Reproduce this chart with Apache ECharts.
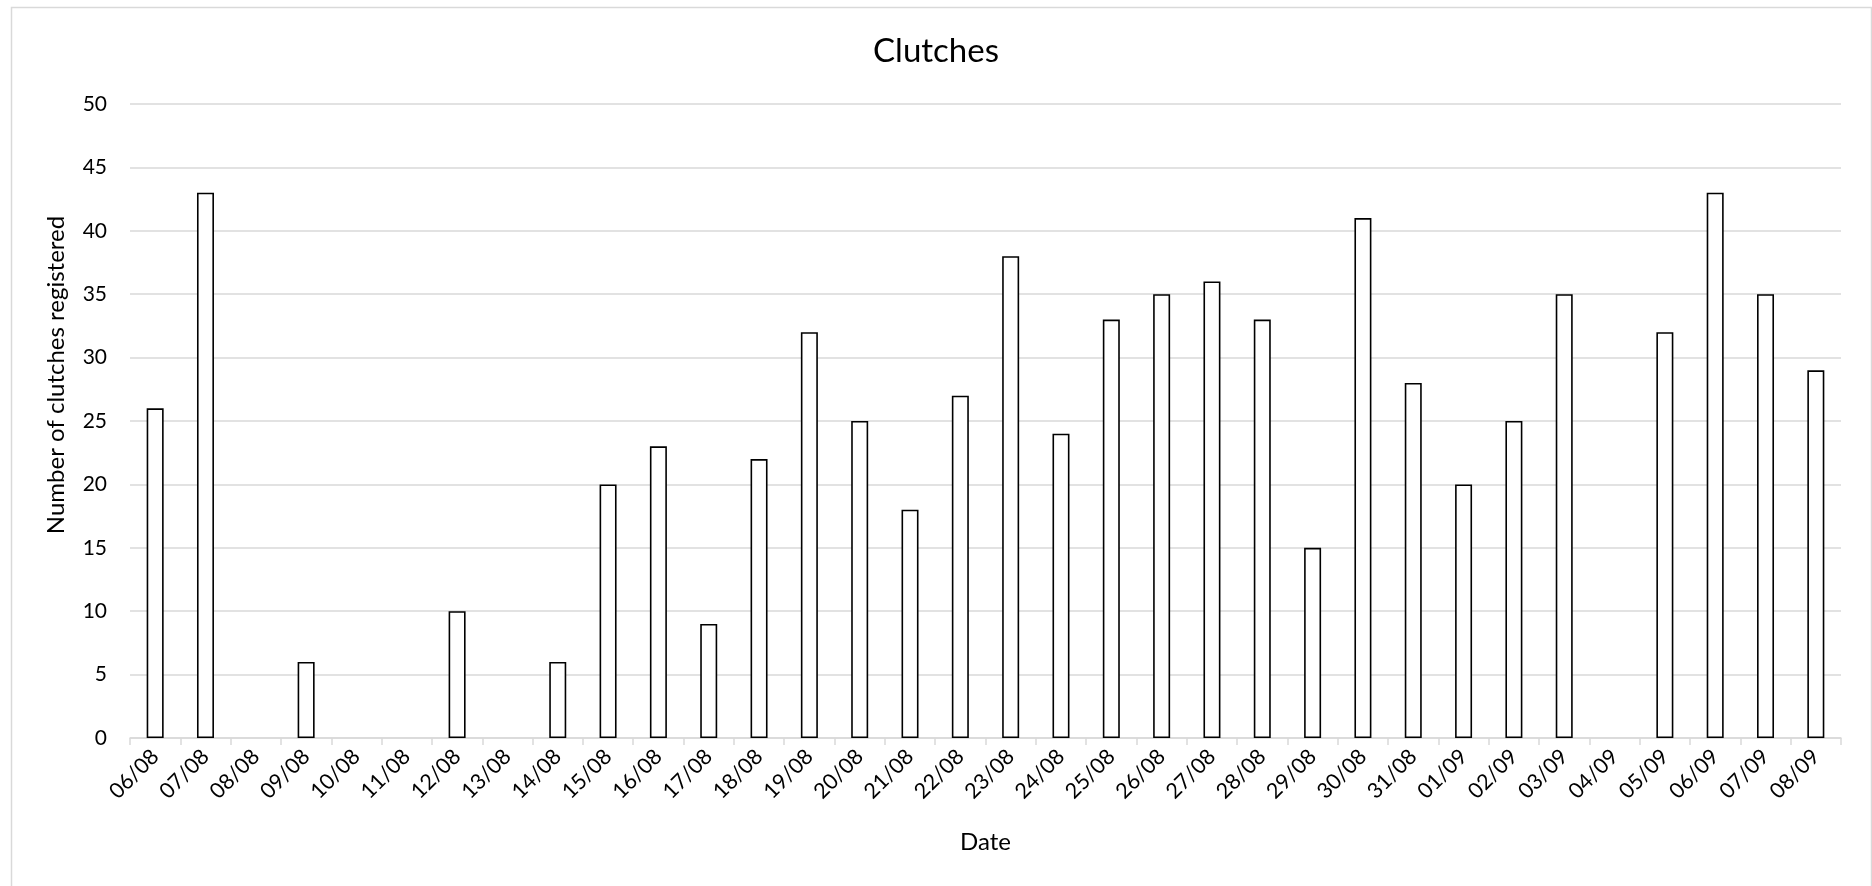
<!DOCTYPE html>
<html>
<head>
<meta charset="utf-8">
<script src="https://cdn.jsdelivr.net/npm/echarts@6/dist/echarts.min.js"></script>
<style>
html,body{margin:0;padding:0;background:#fff;}
#chart{width:1872px;height:886px;}
</style>
</head>
<body>
<div id="chart"></div>
<script>
const titleText = 'Clutches';
const xAxisTitle = 'Date';
const yAxisTitle = 'Number of clutches registered';
const dates = ['06/08','07/08','08/08','09/08','10/08','11/08','12/08','13/08','14/08','15/08','16/08','17/08','18/08','19/08','20/08','21/08','22/08','23/08','24/08','25/08','26/08','27/08','28/08','29/08','30/08','31/08','01/09','02/09','03/09','04/09','05/09','06/09','07/09','08/09'];
const clutches = [26,43,0,6,0,0,10,0,6,20,23,9,22,32,25,18,27,38,24,33,35,36,33,15,41,28,20,25,35,0,32,43,35,29];
const yMin = 0, yMax = 50, yStep = 5;

const FONT = 'Lato, "Open Sans", sans-serif';
const barData = clutches.map(v => v === 0 ? {value: v, itemStyle: {borderWidth: 0}} : v);
const chart = echarts.init(document.getElementById('chart'), null, {renderer: 'canvas'});
chart.setOption({
  animation: false,
  backgroundColor: '#fff',
  title: {
    text: titleText, left: 'center', top: 30,
    textStyle: {fontFamily: FONT, fontSize: 33, fontWeight: 'normal', color: '#000'}
  },
  graphic: [{
    type: 'rect', left: 9, top: 5, silent: true,
    shape: {width: 1860, height: 900},
    style: {fill: 'none', stroke: '#d9d9d9', lineWidth: 1.5}
  }],
  grid: {left: 130, right: 31, top: 104, bottom: 148, containLabel: false},
  xAxis: {
    type: 'category', data: dates, boundaryGap: true,
    name: xAxisTitle, nameLocation: 'middle', nameGap: 92,
    nameTextStyle: {fontFamily: FONT, fontSize: 24, color: '#000'},
    axisLine: {show: true, lineStyle: {color: '#d9d9d9', width: 1.5}},
    axisTick: {show: true, length: 7, lineStyle: {color: '#d9d9d9', width: 1.5}},
    axisLabel: {interval: 0, rotate: 45, margin: 15, fontFamily: FONT, fontSize: 21.5, color: '#000'},
    splitLine: {show: false}
  },
  yAxis: {
    type: 'value', min: yMin, max: yMax, interval: yStep,
    name: yAxisTitle, nameLocation: 'middle', nameGap: 62, nameRotate: 90,
    nameTextStyle: {fontFamily: FONT, fontSize: 24, color: '#000', padding: [0, 0, 0, 92]},
    axisLine: {show: false}, axisTick: {show: false},
    axisLabel: {margin: 23, fontFamily: FONT, fontSize: 21, color: '#000'},
    splitLine: {lineStyle: {color: '#d9d9d9', width: 1.5}}
  },
  series: [{
    type: 'bar', data: barData, barWidth: 17,
    itemStyle: {color: '#fff', borderColor: '#000', borderWidth: 1.6}
  }]
});
</script>
</body>
</html>
